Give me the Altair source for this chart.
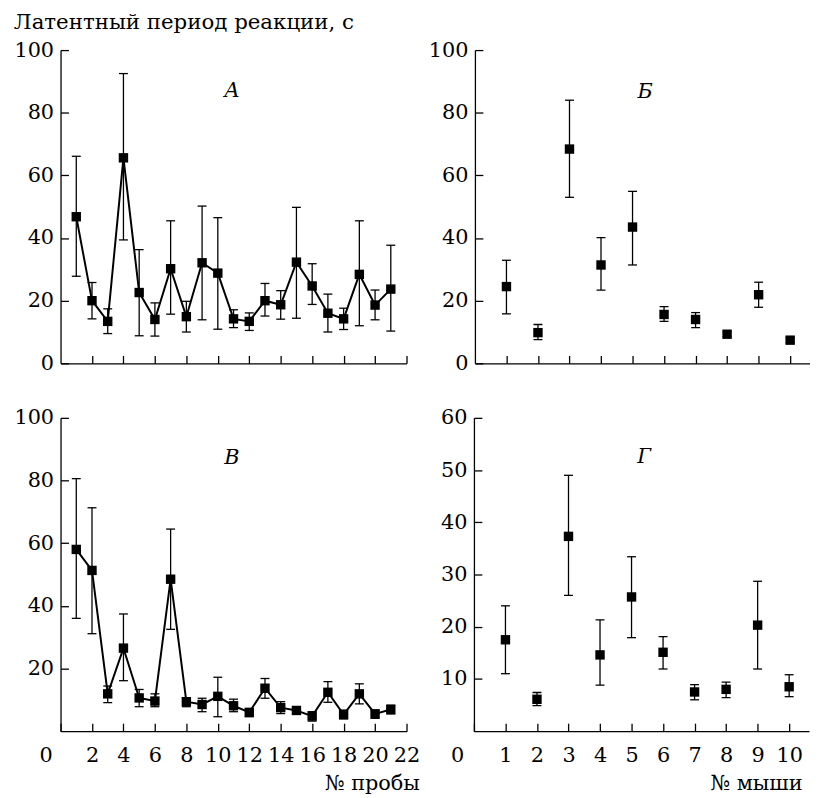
import altair as alt
import pandas as pd

SERIF = "DejaVu Serif"

# Panel А: latency by trial number (mean, upper, lower)
a_x = list(range(1, 22))
a_mean = [46.8, 20.0, 13.4, 65.6, 22.6, 14.0, 30.2, 14.9, 32.1, 28.8, 14.2, 13.4, 20.0, 18.7, 32.3, 24.7, 16.0, 14.2, 28.4, 18.6, 23.7]
a_hi = [66.1, 25.8, 17.4, 92.5, 36.3, 19.3, 45.5, 19.8, 50.2, 46.5, 17.1, 16.1, 25.5, 23.2, 49.8, 31.8, 22.1, 17.6, 45.5, 23.4, 37.7]
a_lo = [27.8, 14.2, 9.5, 39.4, 8.8, 8.7, 15.7, 10.0, 13.9, 10.9, 11.4, 10.5, 15.1, 14.1, 14.4, 18.8, 10.0, 10.8, 12.0, 13.9, 10.3]

# Panel Б: latency by mouse number
b_x = list(range(1, 11))
b_mean = [24.5, 9.8, 68.4, 31.4, 43.5, 15.6, 14.0, 9.3, 21.9, 7.4]
b_hi = [32.9, 12.4, 84.0, 40.1, 54.9, 18.1, 16.2, 10.1, 25.9, 8.2]
b_lo = [15.8, 7.6, 53.0, 23.4, 31.4, 13.4, 11.4, 8.5, 17.9, 6.6]

# Panel В: latency by trial number
c_x = list(range(1, 22))
c_mean = [58.0, 51.3, 11.9, 26.5, 10.6, 9.6, 48.5, 9.4, 8.5, 11.1, 8.1, 6.0, 13.7, 7.5, 6.6, 4.8, 12.4, 5.3, 11.9, 5.5, 6.9]
c_hi = [80.6, 71.3, 14.4, 37.4, 13.3, 11.9, 64.5, 10.5, 10.5, 17.2, 10.2, 7.1, 16.8, 9.4, 7.8, 6.2, 15.8, 6.7, 15.1, 6.7, 8.3]
c_lo = [36.0, 31.1, 9.1, 16.1, 7.8, 7.8, 32.5, 7.8, 6.2, 4.6, 6.2, 4.6, 10.5, 5.6, 5.4, 3.2, 9.2, 3.9, 8.7, 4.1, 5.5]

# Panel Г: latency by mouse number
d_x = list(range(1, 11))
d_mean = [17.5, 6.1, 37.3, 14.6, 25.7, 15.1, 7.5, 8.0, 20.3, 8.5]
d_hi = [24.0, 7.4, 49.0, 21.3, 33.4, 18.1, 8.9, 9.4, 28.7, 10.8]
d_lo = [11.0, 4.9, 26.0, 8.8, 17.9, 11.9, 6.0, 6.4, 11.9, 6.6]

# Tick values / labels
trial_ticks = [0, 2, 4, 6, 8, 10, 12, 14, 16, 18, 20, 22]
mouse_ticks = [0, 1, 2, 3, 4, 5, 6, 7, 8, 9, 10]
top_y_ticks = [0, 20, 40, 60, 80, 100]
c_y_ticks = [20, 40, 60, 80, 100]
d_y_ticks = [10, 20, 30, 40, 50, 60]

# Panel letters and their positions (data units)
letters = ["A", "Б", "В", "Г"]
letter_x = [10.9, 5.4, 10.9, 5.4]
letter_y = [86.8, 86.7, 87.3, 52.4]

y_title = "Латентный период реакции, с"
x_title_trial = "№ пробы"
x_title_mouse = "№ мыши"

LW = 349
RW = 338
RMAX = 10.63
H = 316
FS = 21


def panel(xs, mean, hi, lo, width, xdom, ydom, xticks, yticks, show_xlabels,
          xtitle, title_x, zero_off, li, connect):
    df = pd.DataFrame({"x": xs, "m": mean, "hi": hi, "lo": lo})
    ldf = pd.DataFrame({"x": [letter_x[li]], "y": [letter_y[li]], "t": [letters[li]]})
    common = dict(domain=True, domainColor="black", domainWidth=1.3,
                  ticks=True, tickColor="black", tickWidth=1.3,
                  tickSize={"expr": "-8"}, grid=False,
                  labelFlush=False, labelOverlap=False, labelFont=SERIF,
                  labelFontSize=FS, labelColor="black")
    if show_xlabels:
        xaxis = alt.Axis(values=xticks, labels=True, labelPadding=22,
                         labelOffset={"expr": "datum.value == 0 ? %d : 0" % zero_off},
                         title=xtitle, titleFont=SERIF, titleFontSize=FS,
                         titleFontWeight="normal", titleColor="black",
                         titleAnchor="end", titleAlign="right", titleX=title_x,
                         titlePadding=7, **common)
    else:
        xaxis = alt.Axis(values=[v for v in xticks if v != 0], labels=False,
                         title=None, **common)
    yaxis = alt.Axis(values=yticks, labelPadding=15, title=None, **common)
    xs_ = alt.Scale(domain=xdom, nice=False, zero=False)
    ys_ = alt.Scale(domain=ydom, nice=False)

    def X():
        return alt.X("x:Q", scale=xs_, axis=xaxis)

    base = alt.Chart(df)
    rule = base.mark_rule(color="black", strokeWidth=1.3).encode(
        x=X(), y=alt.Y("lo:Q", scale=ys_, axis=yaxis), y2="hi:Q")
    cap_hi = base.mark_tick(orient="horizontal", size=9, thickness=1.3,
                            color="black", opacity=1).encode(
        x=X(), y=alt.Y("hi:Q", scale=ys_, axis=yaxis))
    cap_lo = base.mark_tick(orient="horizontal", size=9, thickness=1.3,
                            color="black", opacity=1).encode(
        x=X(), y=alt.Y("lo:Q", scale=ys_, axis=yaxis))
    sq = base.mark_square(size=90, color="black", opacity=1, filled=True).encode(
        x=X(), y=alt.Y("m:Q", scale=ys_, axis=yaxis))
    txt = alt.Chart(ldf).mark_text(font=SERIF, fontSize=FS, fontStyle="italic",
                                   color="black").encode(
        x=X(), y=alt.Y("y:Q", scale=ys_, axis=yaxis), text="t:N")
    layers = [rule, cap_hi, cap_lo]
    if connect:
        layers.append(base.mark_line(color="black", strokeWidth=2).encode(
            x=X(), y=alt.Y("m:Q", scale=ys_, axis=yaxis)))
    layers += [sq, txt]
    return alt.layer(*layers).properties(width=width, height=H)


pa = panel(a_x, a_mean, a_hi, a_lo, LW, [0, 22], [0, 100], trial_ticks, top_y_ticks,
           False, None, 0, 0, 0, True)
pb = panel(b_x, b_mean, b_hi, b_lo, RW, [0, RMAX], [0, 100], mouse_ticks, top_y_ticks,
           False, None, 0, 0, 1, False)
pc = panel(c_x, c_mean, c_hi, c_lo, LW, [0, 22], [0, 100], trial_ticks, c_y_ticks,
           True, x_title_trial, LW + 13, -15, 2, True)
pd_ = panel(d_x, d_mean, d_hi, d_lo, RW, [0, RMAX], [0, 60], mouse_ticks, d_y_ticks,
            True, x_title_mouse, RW - 7, -17, 3, False)

chart = alt.vconcat(
    alt.hconcat(pa, pb, spacing=20),
    alt.hconcat(pc, pd_, spacing=20),
    spacing=34,
).properties(
    title=alt.TitleParams(text=y_title, font=SERIF, fontSize=21.5, fontWeight="normal",
                          color="black", anchor="start", offset=6),
    padding={"left": 5, "top": 0, "right": 0, "bottom": 0},
).configure_view(stroke=None)

chart.save("out.html", embed_options={"renderer": "svg", "actions": False})
